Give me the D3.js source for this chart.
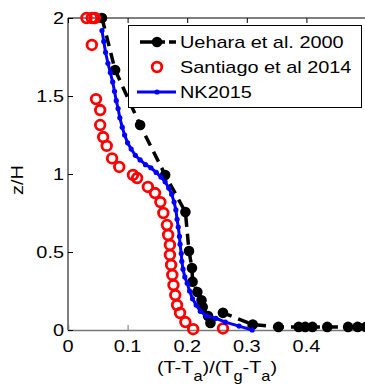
<!DOCTYPE html>
<html><head><meta charset="utf-8">
<script src="https://cdn.jsdelivr.net/npm/d3@7"></script>
<style>html,body{margin:0;padding:0;background:#fff;}svg{display:block;}</style>
</head><body>
<svg id="c" width="365" height="385"></svg>
<script>
const uehara = [[0.057,2.0],[0.079,1.667],[0.121,1.314],[0.163,0.994],[0.197,0.756],[0.203,0.506],[0.208,0.397],[0.209,0.31],[0.217,0.244],[0.224,0.19],[0.226,0.147],[0.235,0.09],[0.239,0.045],[0.26,0.11],[0.31,0.035],[0.353,0.02],[0.387,0.02],[0.398,0.02],[0.41,0.02],[0.435,0.02],[0.47,0.02],[0.486,0.02],[0.5,0.02]];
const santiago = [[0.031,2.0],[0.040,2.0],[0.045,2.0],[0.040,1.827],[0.047,1.48],[0.054,1.41],[0.054,1.314],[0.059,1.237],[0.065,1.18],[0.074,1.10],[0.086,1.045],[0.109,0.994],[0.116,0.974],[0.134,0.917],[0.146,0.878],[0.155,0.82],[0.160,0.75],[0.166,0.673],[0.168,0.609],[0.171,0.545],[0.171,0.481],[0.173,0.417],[0.175,0.353],[0.177,0.288],[0.180,0.224],[0.183,0.16],[0.188,0.109],[0.197,0.051],[0.21,0.005],[0.26,0.01]];
const nk2015 = [[0.057,1.92],[0.060,1.85],[0.063,1.78],[0.067,1.71],[0.071,1.65],[0.075,1.59],[0.078,1.53],[0.081,1.47],[0.084,1.42],[0.087,1.36],[0.091,1.30],[0.095,1.25],[0.100,1.20],[0.106,1.16],[0.113,1.12],[0.121,1.09],[0.130,1.06],[0.139,1.04],[0.148,1.01],[0.156,0.98],[0.163,0.95],[0.169,0.91],[0.174,0.87],[0.178,0.82],[0.181,0.77],[0.183,0.71],[0.185,0.66],[0.187,0.60],[0.188,0.55],[0.190,0.49],[0.191,0.44],[0.193,0.39],[0.196,0.34],[0.200,0.30],[0.204,0.25],[0.209,0.20],[0.215,0.16],[0.222,0.12],[0.232,0.09],[0.248,0.075],[0.264,0.05],[0.287,0.025],[0.309,0.0]];
const xTicks = [0,0.1,0.2,0.3,0.4];
const yTicks = [0,0.5,1,1.5,2];
const legendLabels = ["Uehara et al. 2000","Santiago et al 2014","NK2015"];

const svg = d3.select("#c");
const FONT = "Arial, 'Liberation Sans', sans-serif";
const SX = 1.17;
const FS = 17;
const x = d3.scaleLinear().domain([0,0.5]).range([68,366]);
const y = d3.scaleLinear().domain([0,2]).range([330,18]);

function stext(g, tx, ty, str, size, anchor) {
  return g.append("text").attr("transform",`translate(${tx},${ty}) scale(${SX},1)`)
    .attr("font-family",FONT).attr("font-size",size).attr("text-anchor",anchor||"start")
    .attr("fill","#000").text(str);
}

// axes box lines
const ax = svg.append("g");
ax.append("line").attr("x1",68).attr("x2",366).attr("y1",18).attr("y2",18).attr("stroke","#000");
ax.append("line").attr("x1",68).attr("x2",68).attr("y1",18).attr("y2",330).attr("stroke","#000");
ax.append("line").attr("x1",366).attr("x2",366).attr("y1",18).attr("y2",330).attr("stroke","#000");

// bottom axis with inward ticks
const xb = svg.append("g").attr("transform","translate(0,330)")
  .call(d3.axisBottom(x).tickValues(xTicks).tickSize(-5).tickFormat(""));
xb.select(".domain").attr("stroke","#777").attr("stroke-width",1.5);
xb.selectAll(".tick line").attr("stroke","#777");
const xt = svg.append("g").attr("transform","translate(0,18)")
  .call(d3.axisTop(x).tickValues(xTicks).tickSize(-5).tickFormat(""));
xt.select(".domain").remove();
const yl = svg.append("g").attr("transform","translate(68,0)")
  .call(d3.axisLeft(y).tickValues(yTicks).tickSize(-5).tickFormat(""));
yl.select(".domain").remove();

// tick labels
xTicks.forEach(t => stext(svg, x(t), 352, d3.format("")(t), FS, "middle"));
yTicks.forEach(t => stext(svg, 64, y(t)+6, d3.format("")(t), FS, "end"));

// axis titles
const xl = svg.append("text").attr("transform",`translate(217,373) scale(${SX},1)`)
  .attr("font-family",FONT).attr("font-size",FS).attr("text-anchor","middle");
xl.append("tspan").text("(T-T");
xl.append("tspan").attr("dy",8).attr("font-size",14).text("a");
xl.append("tspan").attr("dy",-8).text(")/(T");
xl.append("tspan").attr("dy",8).attr("font-size",14).text("g");
xl.append("tspan").attr("dy",-8).text("-T");
xl.append("tspan").attr("dy",8).attr("font-size",14).text("a");
xl.append("tspan").attr("dy",-8).text(")");
svg.append("text").attr("transform",`translate(23,180) rotate(-90) scale(${SX},1)`)
  .attr("font-family",FONT).attr("font-size",FS).attr("text-anchor","middle").text("z/H");

// data
const line = d3.line().x(d=>x(d[0])).y(d=>y(d[1]));
svg.append("path").datum(uehara).attr("d",line).attr("fill","none").attr("stroke","#000")
  .attr("stroke-width",3.5).attr("stroke-dasharray","11,7");
svg.append("g").selectAll("circle").data(uehara).join("circle")
  .attr("cx",d=>x(d[0])).attr("cy",d=>y(d[1])).attr("r",5.3).attr("fill","#000");
svg.append("g").selectAll("circle").data(santiago).join("circle")
  .attr("cx",d=>x(d[0])).attr("cy",d=>y(d[1])).attr("r",4.8).attr("fill","none")
  .attr("stroke","#ff0000").attr("stroke-width",2.8);
svg.append("path").datum(nk2015).attr("d",line).attr("fill","none").attr("stroke","#0000ff")
  .attr("stroke-width",3);
svg.append("g").selectAll("circle").data(nk2015).join("circle")
  .attr("cx",d=>x(d[0])).attr("cy",d=>y(d[1])).attr("r",2.6).attr("fill","#0000ff");

// legend
const lg = svg.append("g");
lg.append("rect").attr("x",128.5).attr("y",25.5).attr("width",233).attr("height",82)
  .attr("fill","#fff").attr("stroke","#000");
const rows = [42,67,92];
lg.append("line").attr("x1",140).attr("x2",176).attr("y1",rows[0]).attr("y2",rows[0])
  .attr("stroke","#000").attr("stroke-width",3.5).attr("stroke-dasharray","25,4,7");
lg.append("circle").attr("cx",157).attr("cy",rows[0]).attr("r",5.3).attr("fill","#000");
lg.append("circle").attr("cx",157).attr("cy",rows[1]).attr("r",4.8).attr("fill","none")
  .attr("stroke","#ff0000").attr("stroke-width",2.8);
lg.append("line").attr("x1",137).attr("x2",176).attr("y1",rows[2]).attr("y2",rows[2])
  .attr("stroke","#0000ff").attr("stroke-width",3);
lg.append("circle").attr("cx",157).attr("cy",rows[2]).attr("r",2.6).attr("fill","#0000ff");
legendLabels.forEach((s,i)=>stext(lg, 180, rows[i]+6, s, FS, "start"));
</script>
</body></html>
